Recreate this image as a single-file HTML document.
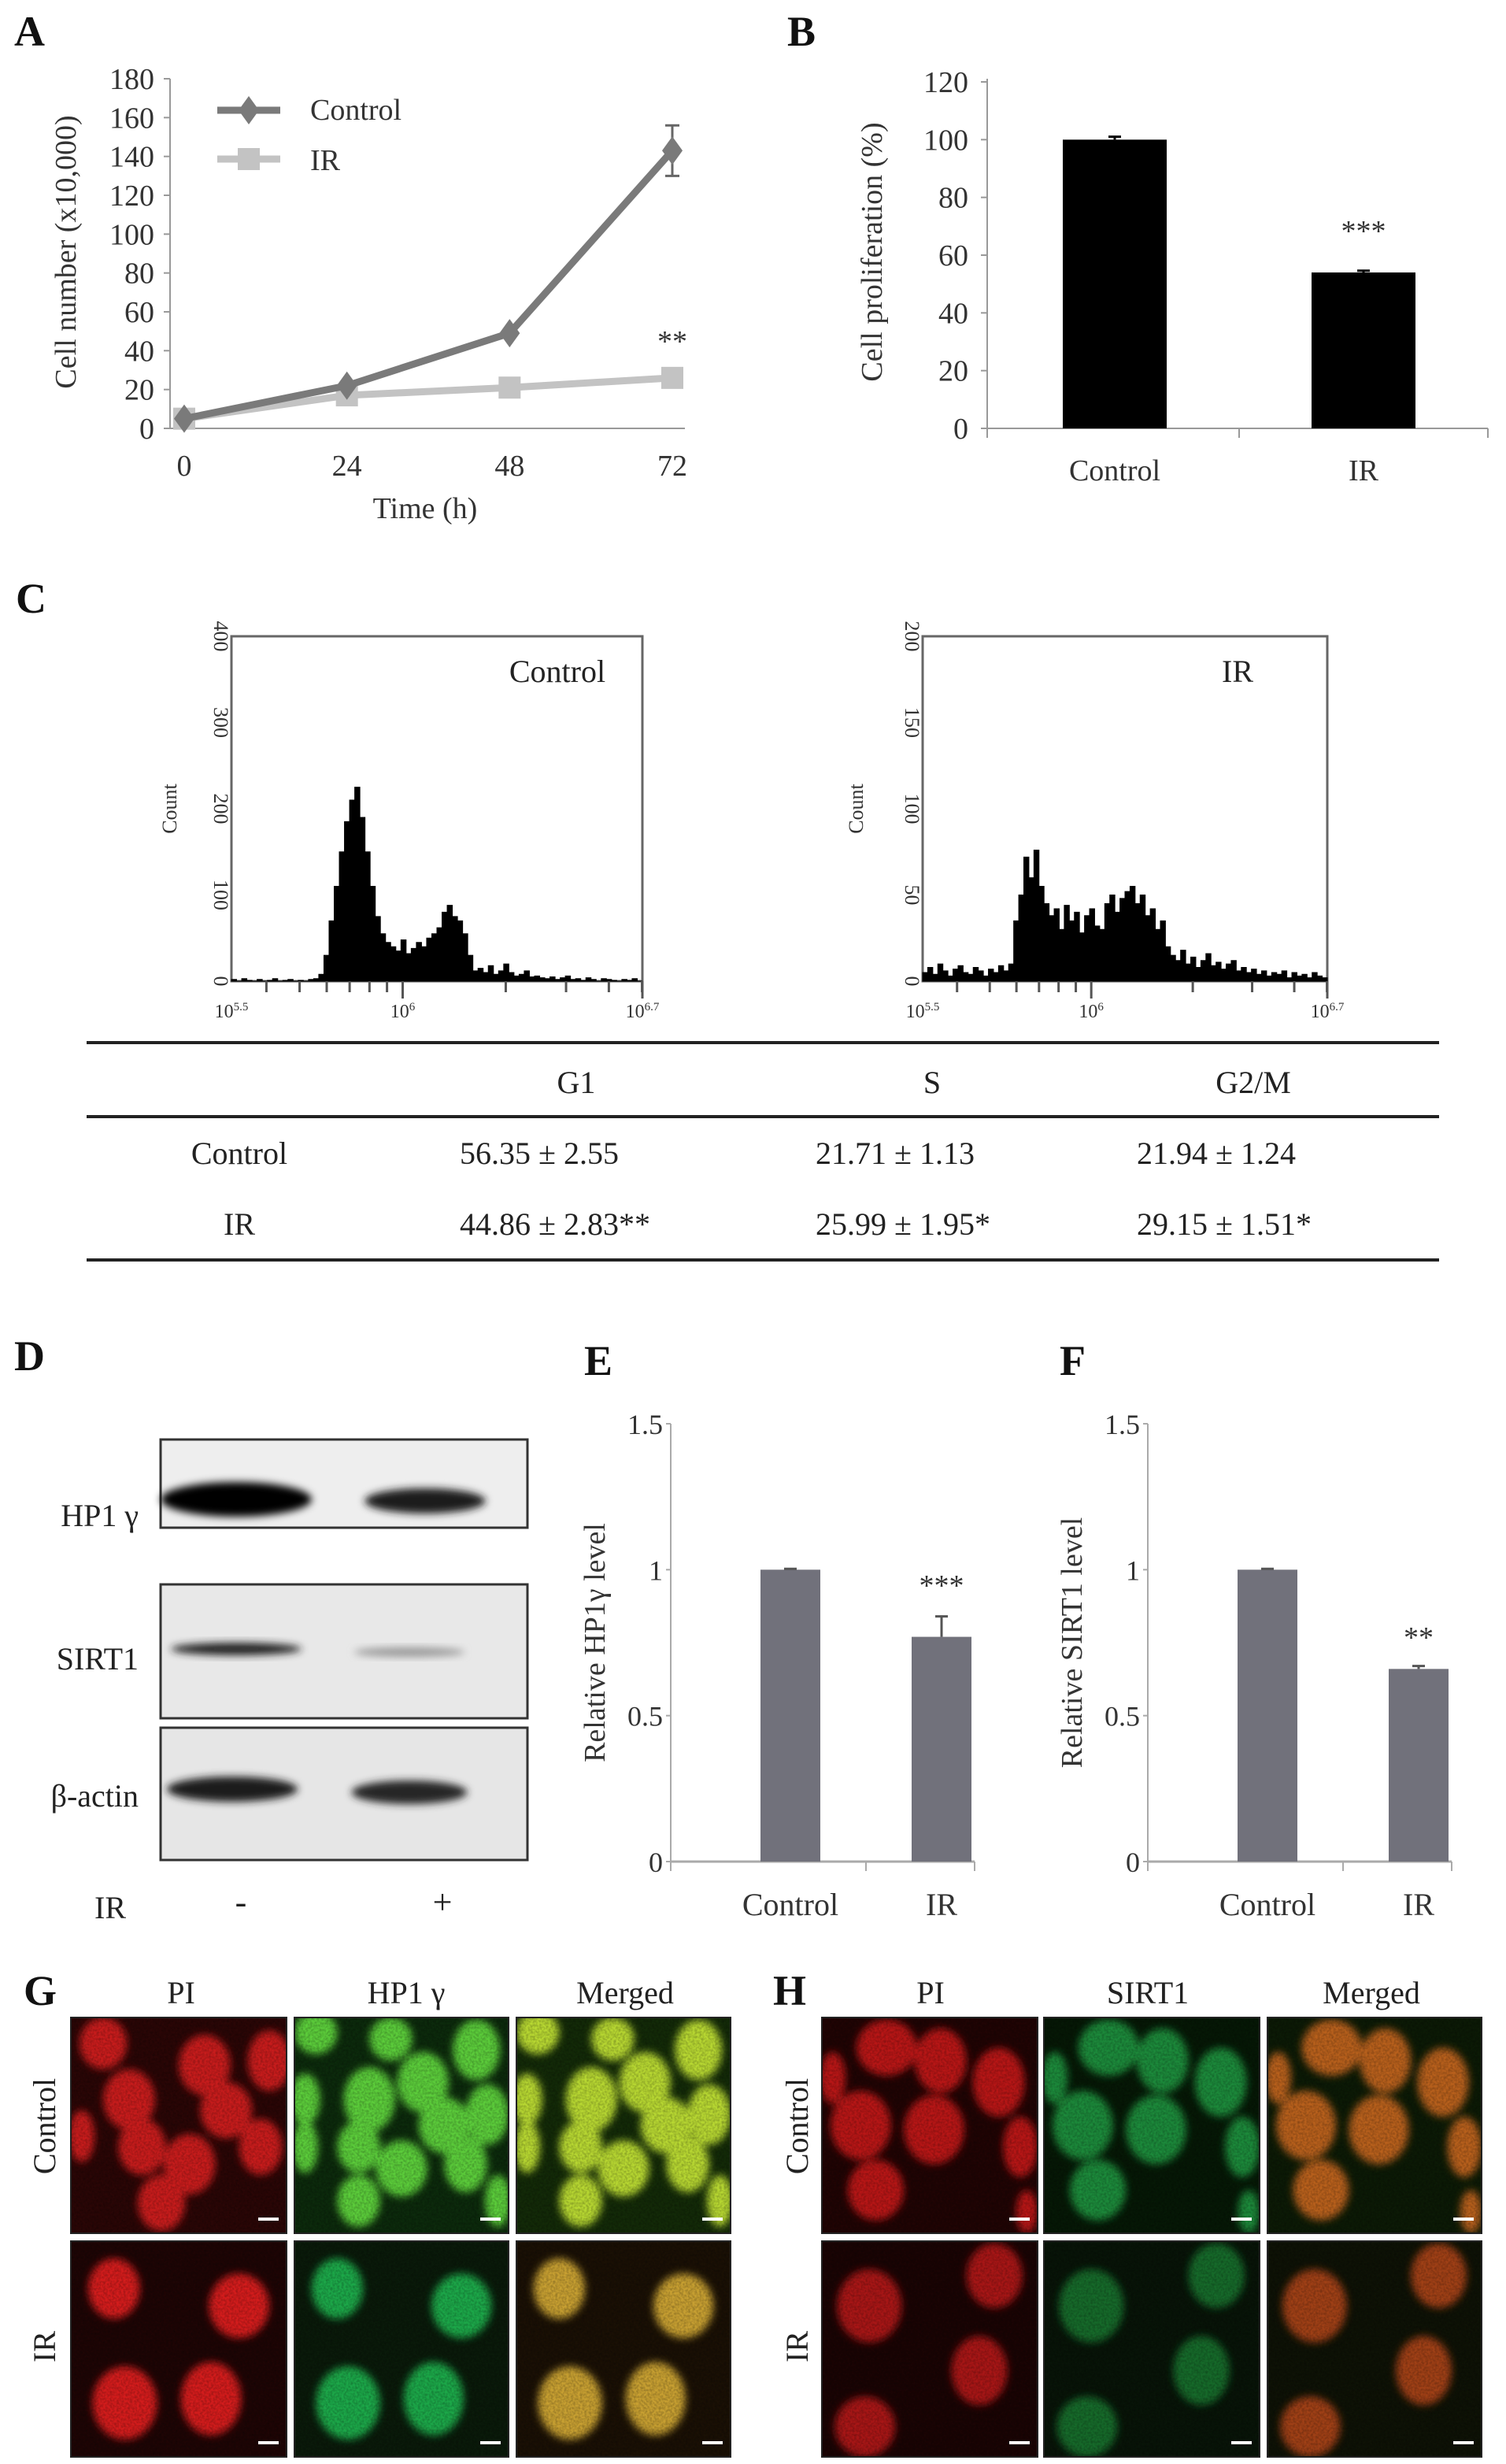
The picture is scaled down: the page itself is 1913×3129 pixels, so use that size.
<!DOCTYPE html>
<html><head><meta charset="utf-8">
<style>
html,body{margin:0;padding:0;background:#fff;}
svg{display:block;font-family:"Liberation Serif",serif;}
</style></head>
<body>
<svg id="fig" xmlns="http://www.w3.org/2000/svg" width="1913" height="3129" viewBox="0 0 1913 3129">
<defs>
<filter id="blur4" x="-50%" y="-50%" width="200%" height="200%"><feGaussianBlur stdDeviation="5"/></filter>
<filter id="blur10" x="-50%" y="-50%" width="200%" height="200%"><feGaussianBlur stdDeviation="10"/></filter>
<filter id="speck"><feTurbulence type="fractalNoise" baseFrequency="0.35" numOctaves="2" seed="3"/><feColorMatrix type="matrix" values="0 0 0 0 0  0 0 0 0 0  0 0 0 0 0  0 0 0 -1.3 0.9"/></filter>
</defs>
<g id="root"></g>
</svg>
<script>
// ---------- Panel A data ----------
const timeLabels = [0, 24, 48, 72];
const controlCounts = [5, 22, 49, 143];
const controlErr = [1, 2, 2, 13];
const irCounts = [5, 17, 21, 26];
const aYTicks = [0, 20, 40, 60, 80, 100, 120, 140, 160, 180];
// ---------- Panel B data ----------
const bCategories = ['Control', 'IR'];
const bValues = [100, 54];
const bErr = [1, 0.6];
const bYTicks = [0, 20, 40, 60, 80, 100, 120];
// ---------- Panel C histograms ----------
const histControl = [2,0,3,1,0,2,0,1,3,0,1,2,0,1,0,2,3,8,
 30,70,110,150,185,210,225,190,150,110,75,55,45,
 40,35,48,32,38,45,40,50,55,62,
 80,88,75,70,55,30,
 12,15,10,18,8,12,20,10,6,8,12,5,6,4,
 3,5,2,4,6,2,3,1,4,2,0,3,2,1,0,2,1,3,0];
const histIR = [5,8,4,10,6,3,7,9,5,4,8,6,3,7,5,9,6,10,
 35,50,72,60,76,55,45,38,42,30,44,35,40,
 28,38,42,32,30,45,50,40,48,52,
 55,45,50,38,42,30,35,20,
 15,12,18,10,14,8,12,16,9,11,7,10,12,6,
 8,5,7,4,6,3,5,4,6,2,5,3,4,2,5,3,2];
const histCtrlTicks = [0, 100, 200, 300, 400];
const histIRTicks = [0, 50, 100, 150, 200];
// ---------- Table ----------
const tableCols = ['G1', 'S', 'G2/M'];
const tableRows = ['Control', 'IR'];
const tableVals = [['56.35 ± 2.55','21.71 ± 1.13','21.94 ± 1.24'],['44.86 ± 2.83**','25.99 ± 1.95*','29.15 ± 1.51*']];
// ---------- Panel E/F ----------
const efCategories = ['Control', 'IR'];
const eValues = [1.0, 0.77];
const eErr = [0.003, 0.07];
const fValues = [1.0, 0.66];
const fErr = [0.003, 0.01];
const efTicks = [0, 0.5, 1, 1.5];
const efTickLabels = ['0', '0.5', '1', '1.5'];

const NS = 'http://www.w3.org/2000/svg';
const root = document.getElementById('root');
function mk(tag, attrs, parent, text) {
  const e = document.createElementNS(NS, tag);
  for (const k in attrs) e.setAttribute(k, attrs[k]);
  if (text !== undefined) e.textContent = text;
  (parent || root).appendChild(e);
  return e;
}

// ===== Panel letters =====
[['A',18,58],['B',1000,58],['C',20,778],['D',18,1740],['E',742,1746],['F',1346,1746],['G',30,2546],['H',982,2546]].forEach(p=>{
  const t = mk('text',{x:p[1],y:p[2],'font-size':54,'font-weight':'bold',fill:'#111'},root,p[0]);
  
  
});

// ===== Panel A =====
const gA = mk('g',{});


const ax = t => 234 + t/72*620;
const ay = v => 544 - v/180*444;
mk('line',{x1:216,y1:100,x2:216,y2:544,stroke:'#999','stroke-width':2},gA);
mk('line',{x1:216,y1:544,x2:870,y2:544,stroke:'#999','stroke-width':2},gA);
aYTicks.forEach(v=>{
  mk('line',{x1:208,y1:ay(v),x2:216,y2:ay(v),stroke:'#999','stroke-width':2},gA);
  const t = mk('text',{x:196,y:ay(v)+13,'font-size':38,'text-anchor':'end',fill:'#333'},gA,String(v));
  
  
});
timeLabels.forEach(v=>{
  const t = mk('text',{x:ax(v),y:604,'font-size':38,'text-anchor':'middle',fill:'#333'},gA,String(v));
  
  
});
let tA = mk('text',{x:540,y:658,'font-size':38,'text-anchor':'middle',fill:'#333'},gA,'Time (h)');
 
tA = mk('text',{x:0,y:0,'font-size':38,'text-anchor':'middle',fill:'#333',transform:'translate(96,320) rotate(-90)'},gA,'Cell number (x10,000)');
 
mk('polyline',{points:irCounts.map((v,i)=>ax(timeLabels[i])+','+ay(v)).join(' '),fill:'none',stroke:'#c3c3c3','stroke-width':9},gA);
irCounts.forEach((v,i)=>{
  const r = mk('rect',{x:ax(timeLabels[i])-14,y:ay(v)-14,width:28,height:28,fill:'#c3c3c3'},gA);
  
  
});
mk('polyline',{points:controlCounts.map((v,i)=>ax(timeLabels[i])+','+ay(v)).join(' '),fill:'none',stroke:'#7a7a7a','stroke-width':9},gA);
controlCounts.forEach((v,i)=>{
  const x=ax(timeLabels[i]), y=ay(v);
  if (controlErr[i]>3){
    mk('path',{d:`M${x},${ay(v+controlErr[i])}V${ay(v-controlErr[i])}M${x-9},${ay(v+controlErr[i])}h18M${x-9},${ay(v-controlErr[i])}h18`,stroke:'#666','stroke-width':3,fill:'none'},gA);
  }
  const p = mk('path',{d:`M${x},${y-18}L${x+13},${y}L${x},${y+18}L${x-13},${y}Z`,fill:'#7a7a7a'},gA);
  
  
});
tA = mk('text',{x:ax(72),y:446,'font-size':38,'text-anchor':'middle',fill:'#333'},gA,'**');
 
const lg = mk('g',{},gA);  
mk('line',{x1:276,y1:140,x2:356,y2:140,stroke:'#7a7a7a','stroke-width':9},lg);
mk('path',{d:'M316,122L329,140L316,158L303,140Z',fill:'#7a7a7a'},lg);
mk('text',{x:394,y:152,'font-size':38,fill:'#333'},lg,'Control');
mk('line',{x1:276,y1:202,x2:356,y2:202,stroke:'#c3c3c3','stroke-width':9},lg);
mk('rect',{x:302,y:188,width:28,height:28,fill:'#c3c3c3'},lg);
mk('text',{x:394,y:216,'font-size':38,fill:'#333'},lg,'IR');

// ===== Panel B =====
const gB = mk('g',{});


const by = v => 544 - v/120*440;
const bx = i => 1416 + i*316;
mk('line',{x1:1254,y1:100,x2:1254,y2:544,stroke:'#999','stroke-width':2},gB);
mk('line',{x1:1254,y1:544,x2:1890,y2:544,stroke:'#999','stroke-width':2},gB);
[1254,1574,1890].forEach(x=>mk('line',{x1:x,y1:544,x2:x,y2:556,stroke:'#999','stroke-width':2},gB));
bYTicks.forEach(v=>{
  mk('line',{x1:1246,y1:by(v),x2:1254,y2:by(v),stroke:'#999','stroke-width':2},gB);
  const t = mk('text',{x:1230,y:by(v)+13,'font-size':38,'text-anchor':'end',fill:'#333'},gB,String(v));
   
});
bValues.forEach((v,i)=>{
  const r = mk('rect',{x:bx(i)-66,y:by(v),width:132,height:544-by(v),fill:'#000'},gB);
   
  mk('path',{d:`M${bx(i)},${by(v+bErr[i])}V${by(v)}M${bx(i)-8},${by(v+bErr[i])}h16`,stroke:'#000','stroke-width':3},gB);
  const t = mk('text',{x:bx(i),y:610,'font-size':38,'text-anchor':'middle',fill:'#333'},gB,bCategories[i]);
   
});
let tB = mk('text',{x:bx(1),y:306,'font-size':38,'text-anchor':'middle',fill:'#333'},gB,'***');
 
tB = mk('text',{x:0,y:0,'font-size':38,'text-anchor':'middle',fill:'#333',transform:'translate(1120,320) rotate(-90)'},gB,'Cell proliferation (%)');
 

// ===== Panel C histograms =====
function histogram(name, x0, x1, y0, y1, data, maxV, ticks, label, labelX, countX) {
  const g = mk('g',{});
  
  
  mk('rect',{x:x0,y:y0,width:x1-x0,height:y1-y0,fill:'none',stroke:'#666','stroke-width':3},g);
  const bw = (x1-x0)/data.length;
  const hy = v => y1 - v/maxV*(y1-y0);
  let d = `M${x0},${y1}`;
  data.forEach((v,i)=>{ d += `V${hy(v)}H${x0+(i+1)*bw}`; });
  d += `V${y1}Z`;
  const p = mk('path',{d:d,fill:'#000',stroke:'#000','stroke-width':1},g);
   
  ticks.forEach(v=>{
    const t = mk('text',{x:0,y:0,'font-size':26,'text-anchor':'middle',fill:'#333',transform:`translate(${x0-22},${hy(v)}) rotate(90)`},g,String(v));
     
  });
  const logX = l => x0 + (l-5.5)/1.2*(x1-x0);
  const tk=[];
  for (let e=5; e<=6; e++) for (let m=1; m<10; m++){ const l=e+Math.log10(m); if(l>=5.5&&l<=6.7) tk.push(l); }
  tk.push(6.7);
  tk.forEach(l=>mk('line',{x1:logX(l),y1:y1,x2:logX(l),y2:y1+(Math.abs(l-Math.round(l))<0.001||l===5.5||l===6.7?22:14),stroke:'#555','stroke-width':3},g));
  [['10','5.5',5.5],['10','6',6],['10','6.7',6.7]].forEach(a=>{
    const t = mk('text',{x:logX(a[2]),y:y1+46,'font-size':24,'text-anchor':'middle',fill:'#333'},g);
     
    mk('tspan',{},t,a[0]); mk('tspan',{dy:-9,'font-size':15},t,a[1]);
  });
  let t = mk('text',{x:labelX,y:y0+58,'font-size':40,'text-anchor':'middle',fill:'#222'},g,label);
   
  t = mk('text',{x:0,y:0,'font-size':26,'text-anchor':'middle',fill:'#333',transform:`translate(${countX},${(y0+y1)/2}) rotate(-90)`},g,'Count');
   
}
histogram('histogram-control',294,816,808,1246,histControl,400,histCtrlTicks,'Control',708,224);
histogram('histogram-ir',1172,1686,808,1246,histIR,200,histIRTicks,'IR',1572,1096);

// ===== Table =====
const gT = mk('g',{});
 
[1324,1418,1600].forEach(y=>mk('line',{x1:110,y1:y,x2:1828,y2:y,stroke:'#222','stroke-width':4},gT));
const colX = [732,1184,1592];
tableCols.forEach((c,i)=>{
  const t = mk('text',{x:colX[i],y:1388,'font-size':40,'text-anchor':'middle',fill:'#222'},gT,c);
   
});
tableRows.forEach((r,ri)=>{
  const y = 1478 + ri*90;
  let t = mk('text',{x:304,y:y,'font-size':40,'text-anchor':'middle',fill:'#222'},gT,r);
   
  tableVals[ri].forEach((v,ci)=>{
    t = mk('text',{x:colX[ci]-148,y:y,'font-size':40,fill:'#222'},gT,v);
     
  });
});

// ===== Panel D western blot =====
const gD = mk('g',{});
 
const blots = [
  {name:'HP1 γ',y0:1828,y1:1940,bg:'#eeeeee',bands:[[300,1904,60,22,'#050505'],[540,1906,48,16,'#1a1a1a']],cy:1924},
  {name:'SIRT1',y0:2012,y1:2182,bg:'#e8e8e8',bands:[[300,2094,52,8,'#222'],[520,2098,44,6,'#999']],cy:2106},
  {name:'β-actin',y0:2194,y1:2362,bg:'#e6e6e6',bands:[[295,2272,52,16,'#1c1c1c'],[520,2276,46,15,'#252525']],cy:2280}
];
blots.forEach(b=>{
  const g = mk('g',{},gD);
  
  
  mk('rect',{x:204,y:b.y0,width:466,height:b.y1-b.y0,fill:b.bg,stroke:'#333','stroke-width':3},g);
  b.bands.forEach(bd=>mk('ellipse',{cx:bd[0],cy:bd[1],rx:bd[2]*1.6,ry:bd[3],fill:bd[4],filter:'url(#blur4)'},g));
  const t = mk('text',{x:176,y:b.cy+14,'font-size':40,'text-anchor':'end',fill:'#222'},g,b.name);
   
});
let tD = mk('text',{x:140,y:2436,'font-size':40,'text-anchor':'middle',fill:'#222'},gD,'IR');
 
tD = mk('text',{x:306,y:2430,'font-size':44,'text-anchor':'middle',fill:'#222'},gD,'-');
 
tD = mk('text',{x:562,y:2430,'font-size':44,'text-anchor':'middle',fill:'#222'},gD,'+');
 

// ===== Panels E & F =====
function smallBar(name, axX, values, errs, title, starText, starY) {
  const g = mk('g',{});
   
  const y = v => 2364 - v/1.5*556;
  const cx = i => axX + 152 + i*192;
  mk('line',{x1:axX,y1:1808,x2:axX,y2:2364,stroke:'#aaa','stroke-width':2},g);
  mk('line',{x1:axX,y1:2364,x2:axX+386,y2:2364,stroke:'#aaa','stroke-width':3},g);
  [axX, axX+248, axX+386].forEach(x=>mk('line',{x1:x,y1:2364,x2:x,y2:2376,stroke:'#aaa','stroke-width':2},g));
  efTicks.forEach((v,i)=>{
    mk('line',{x1:axX-6,y1:y(v),x2:axX,y2:y(v),stroke:'#aaa','stroke-width':2},g);
    const t = mk('text',{x:axX-10,y:y(v)+13,'font-size':36,'text-anchor':'end',fill:'#333'},g,efTickLabels[i]);
     
  });
  values.forEach((v,i)=>{
    const r = mk('rect',{x:cx(i)-38,y:y(v),width:76,height:2364-y(v),fill:'#71717b'},g);
     
    mk('path',{d:`M${cx(i)},${y(v+errs[i])}V${y(v)}M${cx(i)-8},${y(v+errs[i])}h16`,stroke:'#555','stroke-width':3},g);
    const t = mk('text',{x:cx(i),y:2432,'font-size':40,'text-anchor':'middle',fill:'#333'},g,efCategories[i]);
     
  });
  let t = mk('text',{x:cx(1),y:starY,'font-size':38,'text-anchor':'middle',fill:'#333'},g,starText);
   
  t = mk('text',{x:0,y:0,'font-size':38,'text-anchor':'middle',fill:'#333',transform:`translate(${axX-84},2086) rotate(-90)`},g,title);
   
}
smallBar('panel-e-hp1-chart',852,eValues,eErr,'Relative HP1γ level','***',2026);
smallBar('panel-f-sirt1-chart',1458,fValues,fErr,'Relative SIRT1 level','**',2092);

// ===== Panels G & H microscopy =====
const gCtrlCells = [[.15,.12,.11,.12],[.62,.22,.12,.14],[.92,.2,.1,.14],[.27,.38,.12,.14],[.72,.43,.12,.13],[.88,.6,.1,.13],[.33,.6,.11,.13],[.55,.68,.12,.14],[.42,.86,.11,.13],[.05,.55,.06,.12]];
const gCtrlGreen = [[.1,.07,.1,.1],[.45,.1,.1,.1],[.85,.15,.11,.14],[.6,.3,.12,.14],[.35,.38,.12,.15],[.05,.38,.07,.12],[.9,.45,.1,.14],[.7,.5,.12,.13],[.3,.6,.1,.12],[.5,.7,.12,.13],[.05,.6,.06,.12],[.8,.68,.1,.13],[.3,.85,.1,.12],[.95,.85,.06,.12]];
const gIRCells = [[.2,.22,.12,.14],[.78,.3,.14,.15],[.25,.75,.15,.17],[.65,.73,.14,.17]];
const hCtrlCells = [[.3,.14,.14,.13],[.55,.2,.12,.15],[.82,.3,.12,.16],[.05,.28,.06,.12],[.18,.5,.14,.16],[.52,.52,.14,.16],[.92,.6,.08,.14],[.25,.8,.13,.14],[.95,.9,.05,.1]];
const hIRCells = [[.22,.3,.15,.17],[.8,.16,.13,.15],[.73,.6,.13,.16],[.2,.86,.14,.14]];
function micro(name,x,y,w,h,cells,color,extra){
  const g = mk('g',{});
   
  const cid='c'+name;
  const cp = mk('clipPath',{id:cid},g); mk('rect',{x:x,y:y,width:w,height:h},cp);
  const inner = mk('g',{'clip-path':`url(#${cid})`},g);
  mk('rect',{x:x,y:y,width:w,height:h,fill:extra||'#1a0505'},inner);
  const bl = mk('g',{filter:'url(#blur4)'},inner);
  cells.forEach(c=>mk('ellipse',{cx:x+c[0]*w,cy:y+c[1]*h,rx:c[2]*w,ry:c[3]*h,fill:color},bl));
  mk('rect',{x:x,y:y,width:w,height:h,filter:'url(#speck)',opacity:0.35},inner);
  mk('rect',{x:x+w-36,y:y+h-20,width:26,height:4,fill:'#fff'},g);
  mk('rect',{x:x,y:y,width:w,height:h,fill:'none',stroke:'#222','stroke-width':2},g);
}
const R1=2562,R2=2846,H=274;
micro('g-control-pi',90,R1,274,H,gCtrlCells,'#c81a1a','#2a0606');
micro('g-control-hp1',374,R1,272,H,gCtrlGreen,'#5ccd3a','#0c2a0c');
micro('g-control-merged',656,R1,272,H,gCtrlGreen,'#b8d830','#132a08');
micro('g-ir-pi',90,R2,274,H,gIRCells,'#d41c1c','#1e0505');
micro('g-ir-hp1',374,R2,272,H,gIRCells,'#1fa84a','#0a1a0a');
micro('g-ir-merged',656,R2,272,H,gIRCells,'#c8a030','#1a1005');
micro('h-control-pi',1044,R1,274,H,hCtrlCells,'#b81818','#200404');
micro('h-control-sirt1',1326,R1,274,H,hCtrlCells,'#1b8a3a','#061806');
micro('h-control-merged',1610,R1,272,H,hCtrlCells,'#b8601e','#0c1a06');
micro('h-ir-pi',1044,R2,274,H,hIRCells,'#a81616','#1a0404');
micro('h-ir-sirt1',1326,R2,274,H,hIRCells,'#186a2a','#081408');
micro('h-ir-merged',1610,R2,272,H,hIRCells,'#a04018','#0e1206');
[['PI',230],['HP1 γ',516],['Merged',794],['PI',1182],['SIRT1',1458],['Merged',1742]].forEach(a=>{
  const t = mk('text',{x:a[1],y:2544,'font-size':40,'text-anchor':'middle',fill:'#222'},root,a[0]);
   
});
[[70,2700,'Control'],[70,2980,'IR'],[1026,2700,'Control'],[1026,2980,'IR']].forEach(a=>{
  const t = mk('text',{x:0,y:0,'font-size':40,'text-anchor':'middle',fill:'#222',transform:`translate(${a[0]},${a[1]}) rotate(-90)`},root,a[2]);
   
});
</script>
</body></html>
